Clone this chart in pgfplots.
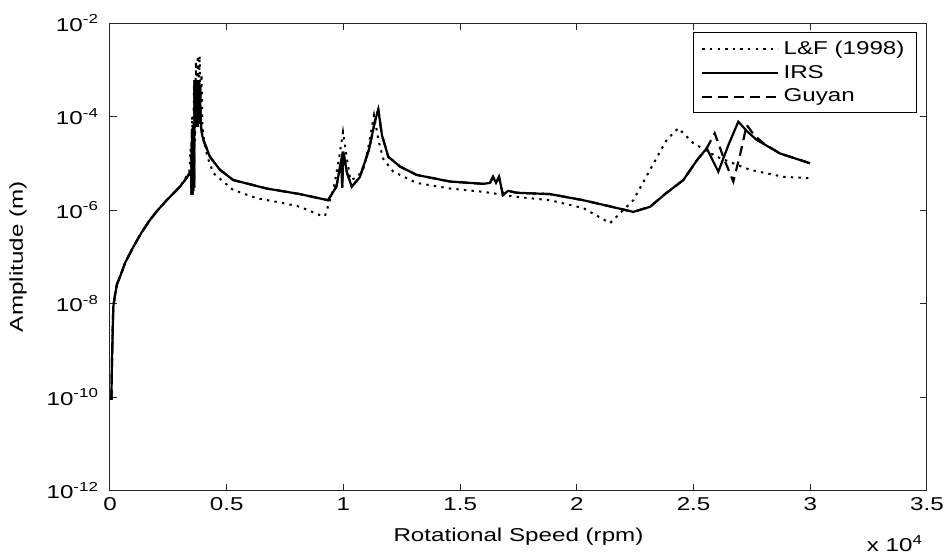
\documentclass[border=0pt]{standalone}
\usepackage{fontspec}
\setmainfont{Liberation Sans}[FakeStretch=1.3]
\usepackage{pgfplots}
\pgfplotsset{compat=1.18}

% amplitude vs speed
\pgfplotstableread{
x y
60 8.7e-11
86 6.17e-10
141 8.51e-9
214 1.51e-8
300 2.6e-8
428 3.72e-8
650 7.5e-8
998 1.62e-7
1350 3.3e-7
1714 6.17e-7
2050 1.0e-6
2429 1.62e-6
3000 3.16e-6
3300 5.0e-6
3470 7.0e-6
3490 2.1e-6
3510 5.0e-5
3530 2.1e-6
3550 6.0e-5
3570 2.5e-6
3590 6.0e-5
3605 3.0e-6
3620 6.0e-4
3640 6.0e-5
3660 6.0e-4
3680 6.0e-5
3700 6.0e-4
3720 6.0e-5
3740 6.0e-4
3760 6.0e-5
3780 6.0e-4
3800 7.0e-5
3820 5.5e-4
3840 8.0e-5
3860 4.5e-4
3880 1.0e-4
3900 6.0e-5
3950 4.0e-5
4000 3.16e-5
4280 1.38e-5
4710 7.24e-6
5282 4.37e-6
6713 2.88e-6
8140 2.19e-6
9339 1.62e-6
9700 3.16e-6
9900 1.12e-5
9950 3.0e-6
9995 1.78e-5
10150 6.31e-6
10355 3.16e-6
10700 5.01e-6
11100 2.00e-5
11350 7.94e-5
11494 1.41e-4
11650 3.98e-5
11922 1.38e-5
12424 8.51e-6
13139 5.62e-6
14566 4.07e-6
15993 3.63e-6
16279 3.80e-6
16408 5.13e-6
16536 3.80e-6
16665 5.13e-6
16836 2.09e-6
17050 2.57e-6
17423 2.34e-6
18850 2.19e-6
20276 1.62e-6
21500 1.17e-6
22418 9.12e-7
23134 1.17e-6
23800 2.24e-6
24560 4.37e-6
25150 1.17e-5
25563 2.09e-5
26060 6.61e-6
26500 2.51e-5
26916 7.76e-5
27300 4.79e-5
27704 3.16e-5
28703 1.62e-5
29988 1.00e-5
}\irs

\pgfplotstableread{
x y
60 8.7e-11
86 6.17e-10
141 8.51e-9
214 1.51e-8
300 2.6e-8
428 3.72e-8
650 7.5e-8
998 1.62e-7
1350 3.3e-7
1714 6.17e-7
2050 1.0e-6
2429 1.62e-6
3000 3.16e-6
3300 5.0e-6
3470 7.0e-6
3490 2.1e-6
3510 5.0e-5
3530 2.1e-6
3550 6.0e-5
3570 2.5e-6
3590 6.0e-5
3605 3.0e-6
3620 6.0e-4
3640 6.0e-5
3660 6.0e-4
3680 6.0e-5
3700 6.0e-4
3720 6.0e-5
3740 6.0e-4
3760 6.0e-5
3780 6.0e-4
3800 7.0e-5
3820 5.5e-4
3840 8.0e-5
3860 4.5e-4
3880 1.0e-4
3900 6.0e-5
3950 4.0e-5
4000 3.16e-5
4280 1.38e-5
4710 7.24e-6
5282 4.37e-6
6713 2.88e-6
8140 2.19e-6
9339 1.62e-6
9700 3.16e-6
9900 1.12e-5
9950 3.0e-6
9995 1.78e-5
10150 6.31e-6
10355 3.16e-6
10700 5.01e-6
11100 2.00e-5
11350 7.94e-5
11494 1.41e-4
11650 3.98e-5
11922 1.38e-5
12424 8.51e-6
13139 5.62e-6
14566 4.07e-6
15993 3.63e-6
16279 3.80e-6
16408 5.13e-6
16536 3.80e-6
16665 5.13e-6
16836 2.09e-6
17050 2.57e-6
17423 2.34e-6
18850 2.19e-6
20276 1.62e-6
21500 1.17e-6
22418 9.12e-7
23134 1.17e-6
23800 2.24e-6
24560 4.37e-6
25150 1.17e-5
25563 2.09e-5
25906 4.37e-5
26300 1.26e-5
26702 4.07e-6
27000 1.58e-5
27276 6.61e-5
27600 3.98e-5
27987 2.69e-5
28703 1.62e-5
29988 1.00e-5
}\guyan

\pgfplotstableread{
x y
60 8.7e-11
86 6.17e-10
141 8.51e-9
214 1.51e-8
300 2.6e-8
428 3.72e-8
650 7.5e-8
998 1.62e-7
1350 3.3e-7
1714 6.17e-7
2050 1.0e-6
2429 1.62e-6
3000 3.16e-6
3300 5.5e-6
3400 6.5e-6
3450 2.0e-5
3480 7.0e-6
3520 1.0e-4
3560 1.0e-5
3600 5.0e-4
3640 3.0e-5
3680 1.5e-3
3720 1.0e-4
3760 2.0e-3
3800 3.0e-4
3840 2.0e-3
3880 2.0e-4
3920 8.0e-4
3960 6.0e-5
4050 2.5e-5
4200 1.26e-5
4426 6.17e-6
5270 2.69e-6
6300 1.78e-6
7411 1.41e-6
8140 1.17e-6
8996 7.76e-7
9211 7.41e-7
9600 3.16e-6
9800 1.17e-5
9982 4.68e-5
10150 1.26e-5
10300 4.37e-6
10600 5.01e-6
10900 8.51e-6
11100 2.69e-5
11310 1.07e-4
11500 3.16e-5
11700 1.26e-5
12137 6.61e-6
13139 3.80e-6
14566 2.88e-6
15993 2.45e-6
17423 1.91e-6
18850 1.62e-6
20276 1.10e-6
21420 5.25e-7
22418 1.62e-6
23134 7.24e-6
23849 3.16e-5
24346 5.62e-5
24989 2.69e-5
25991 1.38e-5
27418 7.24e-6
28845 5.13e-6
29988 4.79e-6
}\lf

\begin{document}
\begin{tikzpicture}
\useasboundingbox (-55pt,-31.75pt) rectangle (419pt,245.25pt);
\begin{axis}[
    at={(0,0)}, anchor=south west,
    scale only axis,
    width=408.5pt, height=233.75pt,
    ymode=log,
    xmin=0, xmax=35000,
    ymin=1e-12, ymax=1e-2,
    xtick={0,5000,10000,15000,20000,25000,30000,35000},
    xticklabels={0,0.5,1,1.5,2,2.5,3,3.5},
    ytick={1e-12,1e-10,1e-8,1e-6,1e-4,1e-2},
    yticklabels={10\textsuperscript{-12},10\textsuperscript{-10},10\textsuperscript{-8},10\textsuperscript{-6},10\textsuperscript{-4},10\textsuperscript{-2}},
    scaled x ticks=false,
    minor tick length=0pt,
    major tick length=3.5pt,
    tick align=inside,
    axis line style={black!85, line width=0.5pt},
    tick style={black!85, line width=0.5pt},
    font=\fontsize{9.3}{11}\selectfont,
    yticklabel style={xshift=-2pt},
    xlabel={Rotational Speed (rpm)},
    ylabel={Amplitude (m)},
    xlabel style={at={(axis description cs:0.5,-0.0995)}, anchor=center},
    ylabel style={at={(axis description cs:-0.1126,0.5)}, anchor=center},
    legend style={at={(axis description cs:0.9878,0.9807)}, anchor=north east,
        draw=black, line width=0.5pt, inner xsep=4pt, inner ysep=2pt,
        row sep=0pt, font=\fontsize{9.3}{11}\selectfont, cells={anchor=west}},
    legend image code/.code={\draw[#1] (0pt,0pt) -- (38pt,0pt);},
]
\addplot[black, line width=1pt, dash pattern=on 1.2pt off 2.6pt] table[x=x,y=y] {\lf};
\addplot[black, line width=1.1pt] table[x=x,y=y] {\irs};
\addplot[black, line width=1.1pt, dash pattern=on 5pt off 3pt] table[x=x,y=y] {\guyan};
\legend{L\&F (1998),IRS,Guyan}
\end{axis}
\node[anchor=east] at (410pt,-26.6pt) {\fontsize{9.3}{11}\selectfont x 10\textsuperscript{4}};
\end{tikzpicture}
\end{document}
